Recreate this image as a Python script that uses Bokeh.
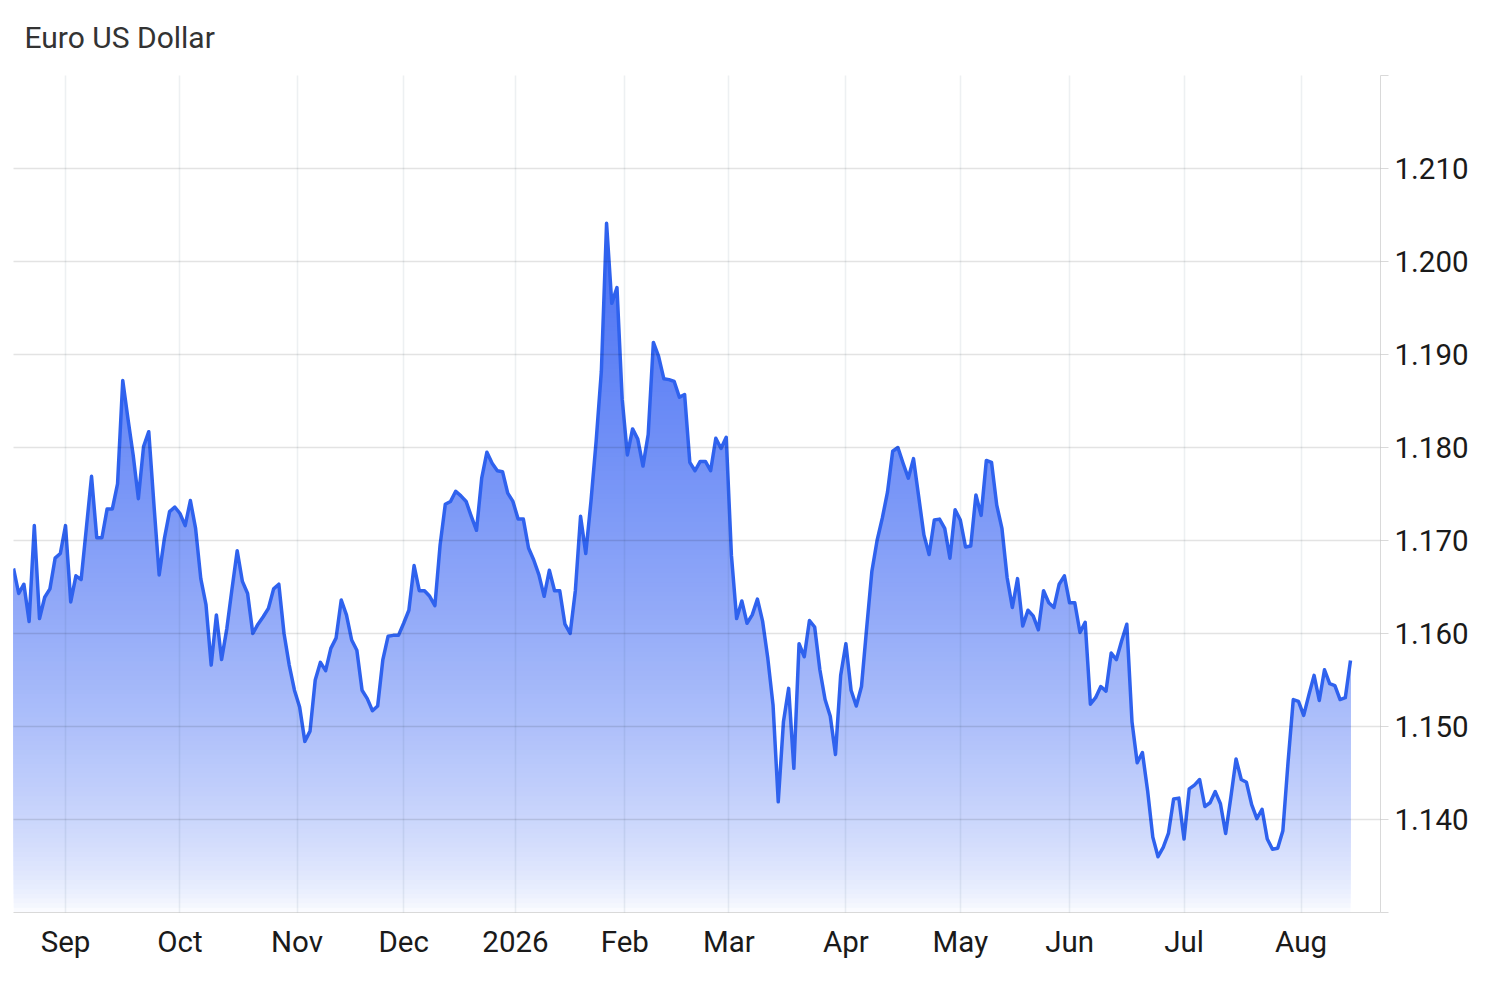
import numpy as np
import pandas as pd
from bokeh.plotting import figure
from bokeh.models import Range1d, FixedTicker, ColumnDataSource, CustomJSTickFormatter
from bokeh.embed import file_html
from bokeh.resources import INLINE

title_text = "Euro US Dollar"

# EUR/USD daily closes (trading days)
eurusd = [
    1.1670, 1.1643, 1.1653, 1.1613, 1.1716, 1.1616, 1.1639, 1.1648, 1.1681, 1.1686,
    1.1716, 1.1634, 1.1662, 1.1658, 1.1713, 1.1769, 1.1703, 1.1703, 1.1734, 1.1734,
    1.1761, 1.1872, 1.1831, 1.1792, 1.1745, 1.1801, 1.1817, 1.1738, 1.1663, 1.1702,
    1.1731, 1.1736, 1.1729, 1.1716, 1.1743, 1.1713, 1.1659, 1.1631, 1.1566, 1.1620,
    1.1572, 1.1605, 1.1648, 1.1689, 1.1656, 1.1643, 1.1600, 1.1610, 1.1618, 1.1627,
    1.1648, 1.1653, 1.1600, 1.1566, 1.1539, 1.1521, 1.1484, 1.1495, 1.1550, 1.1569,
    1.1560, 1.1584, 1.1595, 1.1636, 1.1620, 1.1593, 1.1582, 1.1539, 1.1530, 1.1517,
    1.1522, 1.1572, 1.1597, 1.1598, 1.1598, 1.1611, 1.1625, 1.1673, 1.1646, 1.1646,
    1.1640, 1.1630, 1.1695, 1.1739, 1.1742, 1.1753, 1.1748, 1.1742, 1.1726, 1.1711,
    1.1767, 1.1795, 1.1783, 1.1775, 1.1774, 1.1751, 1.1742, 1.1723, 1.1723, 1.1692,
    1.1679, 1.1663, 1.1640, 1.1668, 1.1646, 1.1646, 1.1610, 1.1600, 1.1646, 1.1726,
    1.1686, 1.1742, 1.1807, 1.1882, 1.2041, 1.1955, 1.1972, 1.1852, 1.1792, 1.1820,
    1.1809, 1.1780, 1.1814, 1.1913, 1.1898, 1.1874, 1.1873, 1.1871, 1.1854, 1.1857,
    1.1784, 1.1775, 1.1785, 1.1785, 1.1775, 1.1810, 1.1799, 1.1811, 1.1684, 1.1616,
    1.1635, 1.1611, 1.1620, 1.1637, 1.1613, 1.1573, 1.1523, 1.1419, 1.1505, 1.1541,
    1.1455, 1.1589, 1.1575, 1.1614, 1.1607, 1.1561, 1.1529, 1.1511, 1.1470, 1.1555,
    1.1589, 1.1539, 1.1522, 1.1543, 1.1606, 1.1667, 1.1700, 1.1724, 1.1752, 1.1796,
    1.1800, 1.1783, 1.1767, 1.1788, 1.1747, 1.1706, 1.1685, 1.1722, 1.1723, 1.1713,
    1.1681, 1.1733, 1.1722, 1.1693, 1.1694, 1.1749, 1.1727, 1.1786, 1.1784, 1.1738,
    1.1713, 1.1660, 1.1628, 1.1659, 1.1608, 1.1625, 1.1619, 1.1604, 1.1646, 1.1633,
    1.1628, 1.1653, 1.1662, 1.1633, 1.1633, 1.1601, 1.1612, 1.1524, 1.1531, 1.1543,
    1.1538, 1.1579, 1.1572, 1.1592, 1.1610, 1.1505, 1.1461, 1.1472, 1.1431, 1.1381,
    1.1360, 1.1370, 1.1385, 1.1422, 1.1423, 1.1379, 1.1433, 1.1437, 1.1443, 1.1414,
    1.1418, 1.1430, 1.1417, 1.1385, 1.1424, 1.1465, 1.1443, 1.1440, 1.1416, 1.1401,
    1.1411, 1.1379, 1.1368, 1.1369, 1.1388, 1.1462, 1.1529, 1.1527, 1.1512, 1.1534,
    1.1555, 1.1528, 1.1561, 1.1546, 1.1544, 1.1529, 1.1531, 1.1571,
]

start_date = "2025-08-18"
market_holidays = ["2025-12-25", "2026-01-01"]
month_labels = ["Sep", "Oct", "Nov", "Dec", "2026", "Feb", "Mar", "Apr", "May", "Jun", "Jul", "Aug"]
y_ticks = [1.13, 1.14, 1.15, 1.16, 1.17, 1.18, 1.19, 1.20, 1.21, 1.22]

dates = pd.bdate_range(start=start_date, periods=len(eurusd), freq="C", holidays=market_holidays)
xs = np.arange(len(eurusd), dtype=float)
ys = np.array(eurusd)

# month-start positions on the trading-day axis
# (a 1st that falls on a non-trading day sits between the surrounding sessions)
month_starts = pd.date_range(dates[0], dates[-1], freq="MS")[: len(month_labels)]
tick_pos = []
for m in month_starts:
    k = int(dates.searchsorted(m))
    tick_pos.append(float(k) if dates[k] == m else k - 0.5)
label_js = "var pos = %s; var lab = %s; for (var i = 0; i < pos.length; i++) { if (Math.abs(tick - pos[i]) < 0.01) return lab[i]; } return '';" % (
    str(tick_pos), str(month_labels).replace("'", '"'))

# layout
FRAME_W = 1367
DATA_W = 1337
x_end = (len(eurusd) - 1) * FRAME_W / DATA_W

p = figure(
    width=1484, height=980,
    output_backend="svg", toolbar_location=None,
    x_range=Range1d(0, x_end), y_range=Range1d(y_ticks[0], y_ticks[-1]),
    y_axis_location="right",
    title=title_text,
    min_border_left=13, min_border_right=104, min_border_top=75, min_border_bottom=68,
)
p.background_fill_color = "white"
p.border_fill_color = "white"
p.outline_line_color = None

p.title.text_font = "Roboto"
p.title.text_font_size = "30px"
p.title.text_font_style = "normal"
p.title.text_color = "#333333"
p.title.align = "left"
p.title.vertical_align = "top"
p.title.offset = 11
p.title.standoff = 37

# gradient fill under the curve: nested opaque layers (bottom to top)
base_rgb = (44, 90, 242)
y0 = y_ticks[0]
vmax = float(ys.max())
step = 0.0005
levels = np.arange(y0, vmax, step)


def clip_above(a):
    X, Y = [], []
    for i in range(len(xs)):
        if i > 0:
            ya, yb = ys[i - 1], ys[i]
            if (ya - a) * (yb - a) < 0:
                t = (a - ya) / (yb - ya)
                X.append(xs[i - 1] + t * (xs[i] - xs[i - 1]))
                Y.append(a)
        X.append(xs[i])
        Y.append(max(ys[i], a))
    return X, Y


def target_opacity(v):
    t = min(max((v - y0) / (vmax - y0), 0.0), 1.0)
    return 0.86 * t ** 0.62


def blend(o):
    r, g, b = (round(255 - o * (255 - c)) for c in base_rgb)
    return "#%02x%02x%02x" % (r, g, b)


for a in levels:
    col = blend(target_opacity(a + step / 2))
    X, Y = clip_above(a)
    src = ColumnDataSource(dict(x=X, y1=[a] * len(X), y2=Y))
    p.varea(x="x", y1="y1", y2="y2", source=src, fill_color=col)

p.line(xs, ys, line_color="#2f62ee", line_width=3.5, line_join="round")

# axes
xa = p.xaxis[0]
xa.ticker = FixedTicker(ticks=tick_pos)
xa.formatter = CustomJSTickFormatter(code=label_js)
xa.major_tick_line_color = None
xa.minor_tick_line_color = None
xa.axis_line_color = "#d9d9d9"
xa.major_label_text_font = "Roboto"
xa.major_label_text_font_size = "29.5px"
xa.major_label_text_color = "#1a1a1a"
xa.major_label_standoff = 6

ya_ = p.yaxis[0]
ya_.ticker = FixedTicker(ticks=y_ticks)
ya_.formatter = CustomJSTickFormatter(code="return (tick > 1.1305 && tick < 1.2195) ? tick.toFixed(3) : '';")
ya_.axis_line_color = "#d9d9d9"
ya_.major_tick_line_color = "#d9d9d9"
ya_.major_tick_out = 8
ya_.major_tick_in = 0
ya_.minor_tick_line_color = None
ya_.major_label_text_font = "Roboto"
ya_.major_label_text_font_size = "29.5px"
ya_.major_label_text_color = "#1a1a1a"
ya_.major_label_standoff = 6

# grids drawn over the fill with translucent dark lines (like the reference)
p.xgrid.level = "annotation"
p.ygrid.level = "annotation"
p.xgrid.grid_line_color = "#1a3a5c"
p.xgrid.grid_line_alpha = 0.08
p.xgrid.grid_line_width = 1.5
p.ygrid.grid_line_color = "#000000"
p.ygrid.grid_line_alpha = 0.11
p.ygrid.grid_line_width = 1.5

open("out.html", "w").write(file_html(p, INLINE))
